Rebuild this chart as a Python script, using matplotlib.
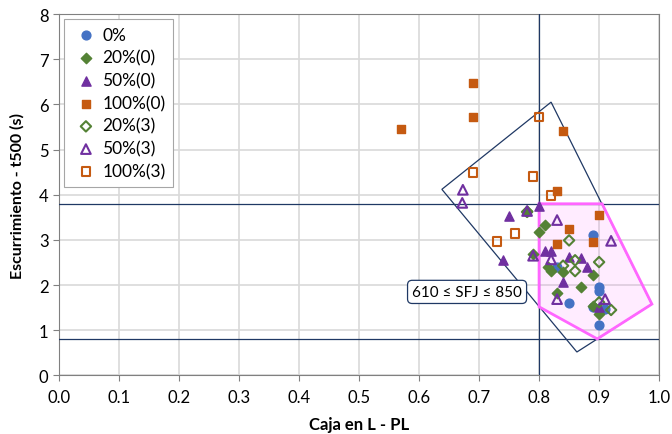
import numpy as np
import matplotlib
matplotlib.use('Agg')
import matplotlib.pyplot as plt
from matplotlib.patches import Polygon

plt.rcParams['font.family'] = ['Lato', 'DejaVu Sans']

# data (x = Caja en L - PL, y = t500 in s)
x_0 = [0.89, 0.90, 0.90, 0.85, 0.90, 0.91, 0.89, 0.83]
y_0 = [3.11, 1.95, 1.88, 1.60, 1.12, 1.47, 1.51, 2.40]

x_20_0 = [0.78, 0.81, 0.80, 0.79, 0.82, 0.84, 0.89, 0.87, 0.83, 0.89, 0.90, 0.815]
y_20_0 = [3.65, 3.33, 3.17, 2.69, 2.31, 2.28, 2.22, 1.96, 1.82, 1.53, 1.36, 2.40]

x_50_0 = [0.75, 0.80, 0.74, 0.81, 0.82, 0.87, 0.85, 0.88, 0.84, 0.90]
y_50_0 = [3.53, 3.75, 2.56, 2.76, 2.76, 2.60, 2.62, 2.40, 2.07, 1.52]

x_100_0 = [0.57, 0.69, 0.69, 0.84, 0.83, 0.90, 0.85, 0.83, 0.89]
y_100_0 = [5.45, 6.47, 5.72, 5.41, 4.08, 3.55, 3.24, 2.90, 2.95]

x_20_3 = [0.85, 0.90, 0.86, 0.84, 0.86, 0.92, 0.90, 0.78]
y_20_3 = [2.99, 2.51, 2.55, 2.43, 2.31, 1.45, 1.62, 3.62]

x_50_3 = [0.673, 0.672, 0.78, 0.83, 0.92, 0.79, 0.82, 0.83, 0.91]
y_50_3 = [4.11, 3.82, 3.64, 3.44, 2.98, 2.65, 2.57, 1.69, 1.69]

x_100_3 = [0.80, 0.69, 0.79, 0.82, 0.76, 0.73]
y_100_3 = [5.72, 4.50, 4.41, 3.99, 3.15, 2.96]

# limit zones
box_x = [0.82, 0.638, 0.863, 0.988]
box_y = [6.05, 4.12, 0.52, 1.58]
zone_x = [0.80, 0.905, 0.988, 0.897, 0.80]
zone_y = [3.80, 3.80, 1.58, 0.81, 1.52]

blue = '#4472C4'
green = '#548235'
purple = '#7030A0'
orange = '#C55A11'
navy = '#1F3864'

fig = plt.figure(figsize=(6.72, 4.35), dpi=100)
ax = fig.add_axes([0.0878, 0.1345, 0.893, 0.831])

ax.add_patch(Polygon(np.column_stack([box_x, box_y]), closed=True,
                     facecolor='none', edgecolor=navy, lw=0.9, zorder=3))
ax.axhline(3.8, color=navy, lw=0.9, zorder=3)
ax.axhline(0.8, color=navy, lw=0.9, zorder=3)
ax.axvline(0.8, color=navy, lw=0.9, zorder=3)
ax.add_patch(Polygon(np.column_stack([zone_x, zone_y]), closed=True,
                     facecolor='#FF66FF', alpha=0.12, edgecolor='none', zorder=2))
ax.add_patch(Polygon(np.column_stack([zone_x, zone_y]), closed=True,
                     facecolor='none', edgecolor='#FF66FF', lw=2, zorder=4))

ms = 36
ax.scatter(x_0, y_0, s=ms + 4, marker='o', color=blue, label='0%', zorder=5)
ax.scatter(x_20_0, y_20_0, s=ms - 8, marker='D', color=green, label='20%(0)', zorder=5)
ax.scatter(x_50_0, y_50_0, s=ms + 8, marker='^', color=purple, label='50%(0)', zorder=5)
ax.scatter(x_100_0, y_100_0, s=ms, marker='s', color=orange, label='100%(0)', zorder=5)
ax.scatter(x_20_3, y_20_3, s=ms - 8, marker='D', facecolor='none', edgecolor=green,
           linewidth=1.5, label='20%(3)', zorder=5)
ax.scatter(x_50_3, y_50_3, s=ms + 12, marker='^', facecolor='none', edgecolor=purple,
           linewidth=1.5, label='50%(3)', zorder=5)
ax.scatter(x_100_3, y_100_3, s=ms + 4, marker='s', facecolor='none', edgecolor=orange,
           linewidth=1.5, label='100%(3)', zorder=5)

ax.text(0.68, 1.85, '610 ≤ SFJ ≤ 850', ha='center', va='center', fontsize=11,
        bbox=dict(boxstyle='round,pad=0.3', facecolor='white', edgecolor=navy, lw=0.9),
        zorder=6)

ax.set_xlim(0, 1.0)
ax.set_ylim(0, 8)
ax.set_xticks(np.arange(0, 1.01, 0.1))
ax.set_xticklabels(['%.1f' % v for v in np.arange(0, 1.01, 0.1)])
ax.set_yticks(range(0, 9))
ax.tick_params(labelsize=12, length=4, color='#808080')
ax.tick_params(axis='x', pad=6)
ax.grid(True, color='#D9D9D9', lw=1.2, zorder=0)
ax.set_axisbelow(True)
for s in ax.spines.values():
    s.set_color('#808080')

ax.set_xlabel('Caja en L - PL', fontsize=12, fontweight='bold', labelpad=8)
ax.set_ylabel('Escurrimiento - t500 (s)', fontsize=11.5, fontweight='bold', labelpad=10)

leg = ax.legend(loc='upper left', bbox_to_anchor=(0.0, 1.0), borderaxespad=0.3,
                fontsize=12.5, handlelength=1.6, handletextpad=0.15,
                labelspacing=0.38, borderpad=0.45,
                fancybox=False, edgecolor='#A6A6A6', framealpha=1)
leg.get_frame().set_linewidth(0.8)

fig.savefig('out.png', dpi=100)
